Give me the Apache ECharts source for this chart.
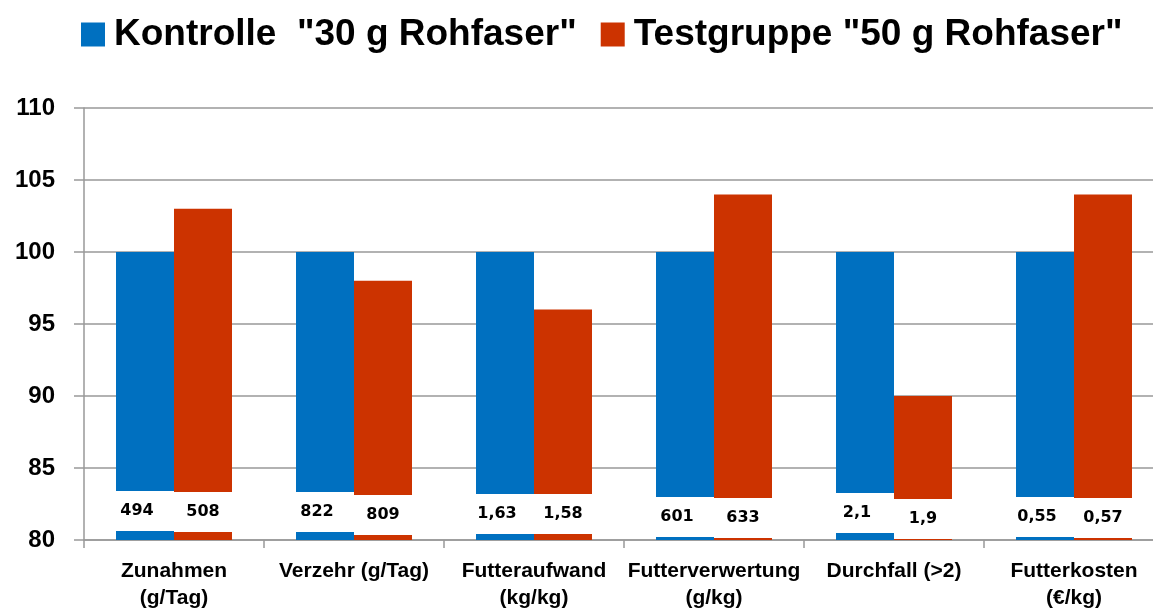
<!DOCTYPE html>
<html>
<head>
<meta charset="utf-8">
<script src="https://cdn.jsdelivr.net/npm/echarts@6/dist/echarts.min.js"></script>
<style>
html,body{margin:0;padding:0;background:#fff;}
#c{width:1153px;height:612px;}
</style>
</head>
<body>
<div id="c"></div>
<script>
const categories = ['Zunahmen\n(g/Tag)', 'Verzehr (g/Tag)', 'Futteraufwand\n(kg/kg)', 'Futterverwertung\n(g/kg)', 'Durchfall (>2)', 'Futterkosten\n(€/kg)'];
const seriesNames = ['Kontrolle  "30 g Rohfaser"', 'Testgruppe "50 g Rohfaser"'];
const kontrolle = [100, 100, 100, 100, 100, 100];
const testgruppe = [103, 98, 96, 104, 90, 104];
const kontrolleLabels = ['494', '822', '1,63', '601', '2,1', '0,55'];
const testLabels = ['508', '809', '1,58', '633', '1,9', '0,57'];
const yTicks = {min: 80, max: 110, interval: 5};

// style only: lift of the white value boxes above the axis (px)
const kontrolleLift = [9, 8, 6, 3, 7, 3];
const testLift = [8, 5, 6, 2, 1, 2];

const labelBase = {
  show: true,
  position: 'insideBottom',
  backgroundColor: '#fff',
  height: 40,
  lineHeight: 40,
  color: '#000',
  fontFamily: 'DejaVu Sans',
  fontWeight: 'bold',
  fontSize: 16,
  align: 'center'
};

function build(values, labels, lifts, shiftLeft) {
  return values.map((v, i) => ({
    value: v,
    label: Object.assign({}, labelBase, {
      distance: lifts[i],
      formatter: labels[i],
      width: shiftLeft ? 42 : 58,
      padding: shiftLeft ? [0, 16, 0, 0] : 0,
      overflow: 'truncate',
      ellipsis: ''
    })
  }));
}

const chart = echarts.init(document.getElementById('c'));
chart.setOption({
  animation: false,
  backgroundColor: '#fff',
  legend: {
    left: 76,
    top: 11,
    itemWidth: 24,
    itemHeight: 24,
    itemGap: 24,
    icon: 'rect',
    textStyle: {fontFamily: 'Liberation Sans', fontWeight: 'bold', fontSize: 37, color: '#000', padding: [0, 0, 0, 4]},
    data: seriesNames
  },
  grid: {left: 84, top: 108, height: 432, width: 1080, containLabel: false, outerBoundsMode: 'none'},
  xAxis: {
    type: 'category',
    data: categories,
    axisLine: {show: true, lineStyle: {color: '#999', width: 1.5}},
    axisTick: {show: true, length: 8, lineStyle: {color: '#999', width: 1.5}},
    axisLabel: {interval: 0, margin: 18, color: '#000', fontFamily: 'Liberation Sans', fontWeight: 'bold', fontSize: 21, lineHeight: 27}
  },
  yAxis: {
    type: 'value',
    min: yTicks.min, max: yTicks.max, interval: yTicks.interval,
    startValue: yTicks.min,
    axisLine: {show: true, lineStyle: {color: '#999', width: 1.5}},
    axisTick: {show: true, length: 10, lineStyle: {color: '#999', width: 1.5}},
    splitLine: {show: true, lineStyle: {color: '#999', width: 1.5}},
    axisLabel: {margin: 29, color: '#000', fontFamily: 'Liberation Sans', fontWeight: 'bold', fontSize: 24}
  },
  series: [
    {
      name: seriesNames[0], type: 'bar', barWidth: 58, barGap: '0%',
      itemStyle: {color: '#0070C0'},
      data: build(kontrolle, kontrolleLabels, kontrolleLift, true)
    },
    {
      name: seriesNames[1], type: 'bar', barWidth: 58, barGap: '0%',
      itemStyle: {color: '#CC3300'},
      data: build(testgruppe, testLabels, testLift, false)
    }
  ]
});
</script>
</body>
</html>
